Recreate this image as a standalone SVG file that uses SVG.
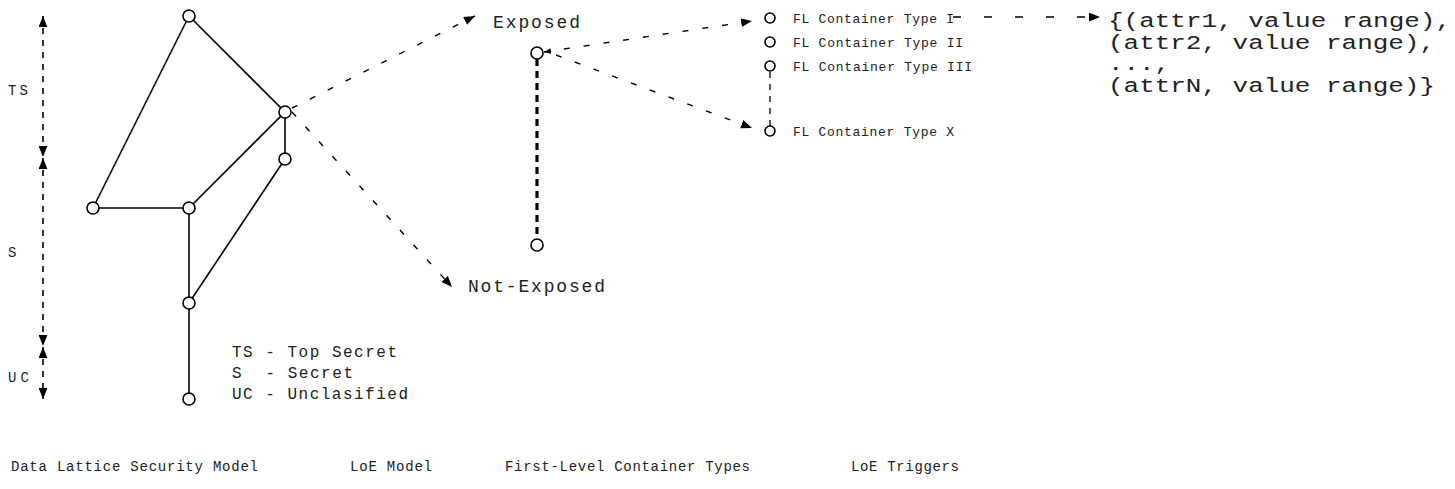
<svg xmlns="http://www.w3.org/2000/svg" width="1455" height="489" viewBox="0 0 1455 489">
  <style>
    .bg { fill: #ffffff; }
    .t { font-family: "Liberation Mono", "Courier New", monospace; fill: #222; white-space: pre; }
    .edge { stroke: #000; stroke-width: 1.6; fill: none; }
    .node { fill: #fff; stroke: #000; stroke-width: 1.6; }
    .axis { stroke: #000; stroke-width: 1.6; stroke-dasharray: 6 6; fill: none; }
    .flow { stroke: #000; stroke-width: 1.4; stroke-dasharray: 6 14; fill: none; }
    .loe { stroke: #000; stroke-width: 3.2; stroke-dasharray: 7 5; fill: none; }
    .fl  { stroke: #000; stroke-width: 1.3; stroke-dasharray: 6 6; fill: none; }
  </style>
  <defs>
    <marker id="arr" viewBox="0 0 10 8" refX="10" refY="4" markerWidth="11" markerHeight="9" markerUnits="userSpaceOnUse" orient="auto-start-reverse">
      <path d="M0,0 L10,4 L0,8 z" fill="#000"/>
    </marker>
    <marker id="arrSmall" viewBox="0 0 10 8" refX="10" refY="4" markerWidth="7" markerHeight="6" markerUnits="userSpaceOnUse" orient="auto-start-reverse">
      <path d="M0,0 L10,4 L0,8 z" fill="#000"/>
    </marker>
  </defs>
  <rect class="bg" x="0" y="0" width="1455" height="489"/>

  <!-- classification axis -->
  <g id="axis">
    <line class="axis" x1="43" y1="16" x2="43" y2="157" marker-start="url(#arr)" marker-end="url(#arr)"/>
    <line class="axis" x1="43" y1="158" x2="43" y2="346" marker-start="url(#arr)" marker-end="url(#arr)"/>
    <line class="axis" x1="43" y1="347" x2="43" y2="399" marker-start="url(#arr)" marker-end="url(#arr)"/>
    <text class="t" x="8" y="95" font-size="14" textLength="20">TS</text>
    <text class="t" x="8" y="257" font-size="14">S</text>
    <text class="t" x="8" y="382" font-size="14" textLength="21">UC</text>
  </g>

  <!-- connectors -->
  <g id="connectors">
    <!-- lattice edges -->
    <line class="edge" x1="189" y1="16" x2="93" y2="208"/>
    <line class="edge" x1="189" y1="16" x2="285" y2="112"/>
    <line class="edge" x1="93" y1="208" x2="189" y2="208"/>
    <line class="edge" x1="189" y1="208" x2="285" y2="112"/>
    <line class="edge" x1="285" y1="112" x2="285" y2="159"/>
    <line class="edge" x1="285" y1="159" x2="189" y2="303"/>
    <line class="edge" x1="189" y1="208" x2="189" y2="303"/>
    <line class="edge" x1="189" y1="303" x2="189" y2="399"/>
    <!-- lattice to LoE -->
    <line class="flow" x1="292" y1="108" x2="475" y2="16" marker-end="url(#arr)"/>
    <line class="flow" x1="292" y1="112" x2="452" y2="287" marker-end="url(#arr)"/>
    <!-- LoE scale -->
    <line class="loe" x1="537" y1="59" x2="537" y2="239"/>
    <!-- LoE to container types -->
    <line class="flow" x1="544" y1="52" x2="752" y2="21" marker-start="url(#arrSmall)" marker-end="url(#arr)"/>
    <line class="flow" x1="556" y1="55" x2="752" y2="128" marker-end="url(#arr)"/>
    <!-- container type range -->
    <line class="fl" x1="770" y1="72" x2="770" y2="126"/>
    <!-- container type to triggers -->
    <line class="flow" x1="953" y1="17" x2="1100" y2="17" style="stroke-dasharray: 8 23" marker-end="url(#arr)"/>
  </g>

  <!-- lattice nodes -->
  <g id="lattice">
    <circle class="node" cx="189" cy="16" r="6"/>
    <circle class="node" cx="285" cy="112" r="6"/>
    <circle class="node" cx="285" cy="159" r="6"/>
    <circle class="node" cx="93" cy="208" r="6"/>
    <circle class="node" cx="189" cy="208" r="6"/>
    <circle class="node" cx="189" cy="303" r="6"/>
    <circle class="node" cx="189" cy="399" r="6"/>
  </g>

  <g id="legend">
    <text class="t" x="232" y="357" font-size="16" textLength="165">TS - Top Secret</text>
    <text class="t" x="232" y="378" font-size="16" textLength="121">S  - Secret</text>
    <text class="t" x="232" y="399" font-size="16" textLength="176">UC - Unclasified</text>
  </g>

  <!-- level of exposure -->
  <g id="loe-exposed">
    <text class="t" x="493" y="28" font-size="18" textLength="87">Exposed</text>
    <circle class="node" cx="537" cy="53" r="6"/>
  </g>
  <g id="loe-not-exposed">
    <circle class="node" cx="537" cy="245" r="6"/>
    <text class="t" x="468" y="292" font-size="18" textLength="137">Not-Exposed</text>
  </g>

  <!-- first-level container types -->
  <g id="fl-type-1">
    <circle class="node" cx="770" cy="18" r="5"/>
    <text class="t" x="793" y="23" font-size="13" textLength="161">FL Container Type I</text>
  </g>
  <g id="fl-type-2">
    <circle class="node" cx="770" cy="42" r="5"/>
    <text class="t" x="793" y="47" font-size="13" textLength="170">FL Container Type II</text>
  </g>
  <g id="fl-type-3">
    <circle class="node" cx="770" cy="66" r="5"/>
    <text class="t" x="793" y="71" font-size="13" textLength="179">FL Container Type III</text>
  </g>
  <g id="fl-type-x">
    <circle class="node" cx="770" cy="131" r="5"/>
    <text class="t" x="793" y="136" font-size="13" textLength="161">FL Container Type X</text>
  </g>

  <!-- triggers -->
  <g id="triggers">
    <text class="t" x="1108" y="27" font-size="20" textLength="343" lengthAdjust="spacingAndGlyphs">{(attr1, value range),</text>
    <text class="t" x="1108" y="48.5" font-size="20" textLength="327" lengthAdjust="spacingAndGlyphs">(attr2, value range),</text>
    <text class="t" x="1108" y="70" font-size="20" textLength="62" lengthAdjust="spacingAndGlyphs">...,</text>
    <text class="t" x="1108" y="91.5" font-size="20" textLength="327" lengthAdjust="spacingAndGlyphs">(attrN, value range)}</text>
  </g>

  <!-- section captions -->
  <g id="captions">
    <text class="t" x="11" y="471" font-size="14" textLength="247">Data Lattice Security Model</text>
    <text class="t" x="350" y="471" font-size="14" textLength="82">LoE Model</text>
    <text class="t" x="505" y="471" font-size="14" textLength="245">First-Level Container Types</text>
    <text class="t" x="851" y="471" font-size="14" textLength="108">LoE Triggers</text>
  </g>
</svg>
